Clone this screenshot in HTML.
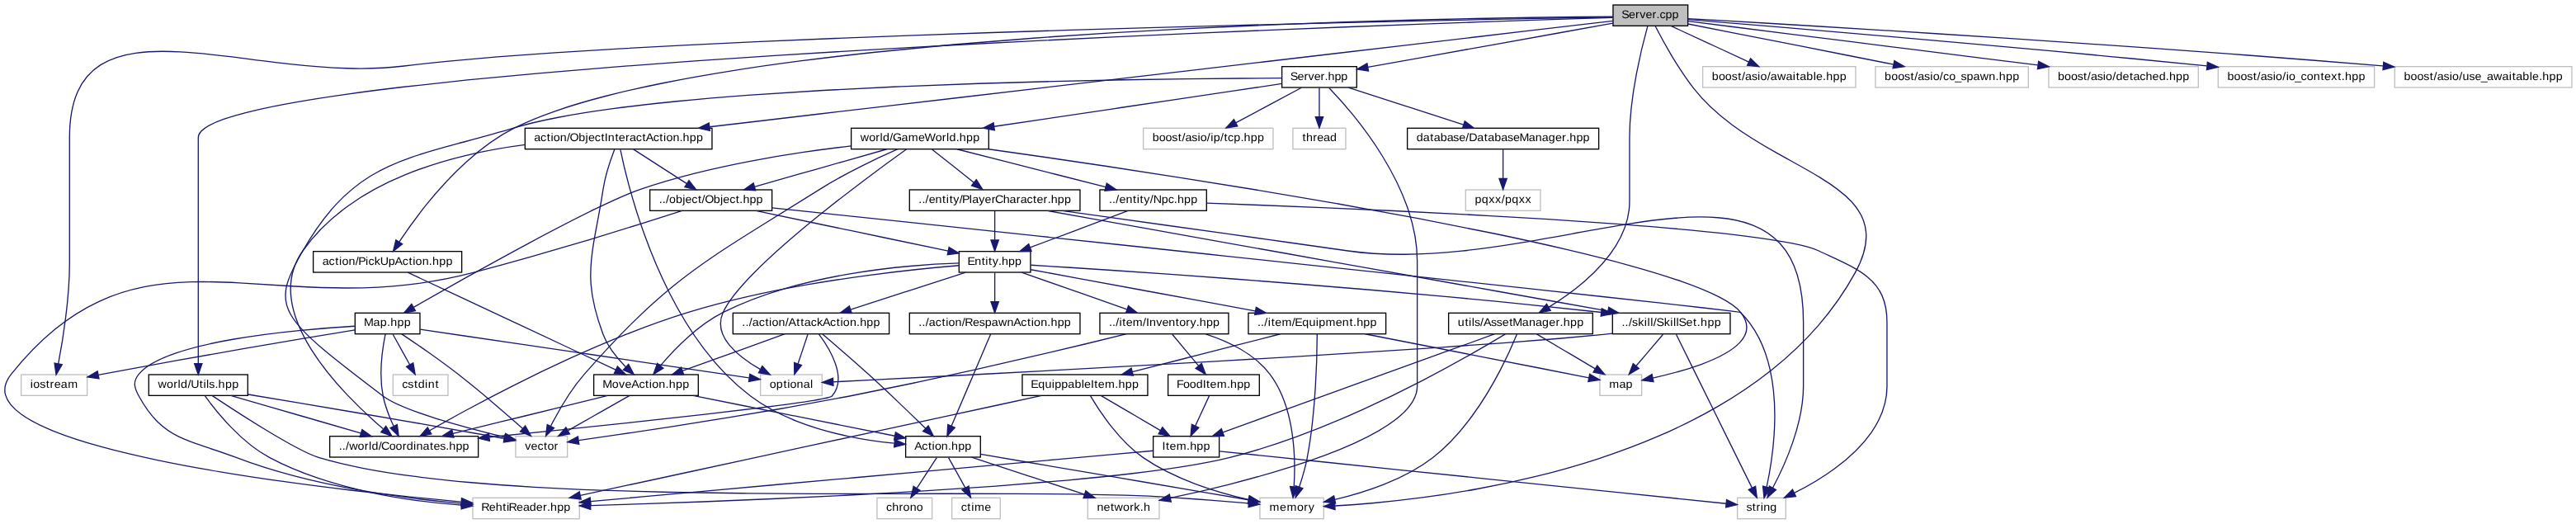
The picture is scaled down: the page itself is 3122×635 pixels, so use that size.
<!DOCTYPE html>
<html><head><meta charset="utf-8"><title>Server.cpp include graph</title>
<style>
html,body{margin:0;padding:0;background:#fff;}
body{width:3122px;height:635px;overflow:hidden;}
svg{display:block;will-change:transform;}
text{font-family:"Liberation Sans",sans-serif;font-size:10.2px;fill:#000;text-rendering:geometricPrecision;}
.e{fill:none;stroke:#191970;stroke-width:1;}
.a{fill:#191970;stroke:#191970;stroke-width:1;}
rect{stroke-width:1;}
</style></head><body>
<svg width="3122" height="635" viewBox="0 0 2341.5 476.25">
<rect x="0" y="0" width="2341.5" height="476.25" fill="#ffffff" stroke="none"/>
<rect x="1466.22" y="4.50" width="68.00" height="19.00" fill="#bfbfbf" stroke="black"/>
<text transform="translate(1474.47,16.50) scale(1.050,1)" x="-0.53 5.70 11.48 15.17 20.35 26.13 29.72 32.51 37.59 43.34">Server.cpp</text>
<rect x="19.22" y="340.50" width="60.00" height="19.00" fill="white" stroke="#bfbfbf"/>
<text transform="translate(27.47,352.50) scale(1.050,1)" x="0.17 2.64 8.24 13.66 17.14 20.82 26.58 32.61">iostream</text>
<path class="e" d="M1466.01,15.57C1457.33,15.72 1447.14,15.90 1435.58,16.11C1424.01,16.33 1411.08,16.57 1396.94,16.84C1382.79,17.12 1367.43,17.42 1351.00,17.76C1334.58,18.10 1317.09,18.46 1298.68,18.86C1280.28,19.26 1260.97,19.70 1240.89,20.16C1220.82,20.63 1199.98,21.12 1178.54,21.65C1157.09,22.18 1135.04,22.75 1112.53,23.34C1090.02,23.94 1067.06,24.57 1043.79,25.23C1020.52,25.90 996.94,26.60 973.21,27.33C949.48,28.06 925.60,28.83 901.72,29.63C877.83,30.43 853.95,31.26 830.21,32.13C806.48,33.00 782.90,33.91 759.61,34.85C736.33,35.79 713.35,36.77 690.83,37.78C668.30,38.79 646.23,39.84 624.77,40.93C603.30,42.01 582.45,43.14 562.34,44.30C542.24,45.45 522.90,46.65 504.47,47.88C486.03,49.12 468.51,50.39 452.05,51.69C435.58,53.00 420.18,54.35 405.99,55.73C391.81,57.12 378.83,58.54 367.22,60.00C350.09,62.16 332.48,62.63 314.80,62.08C297.12,61.53 279.35,59.95 261.89,58.00C244.43,56.06 227.27,53.74 210.79,51.72C194.32,49.69 178.53,47.95 163.81,47.15C149.10,46.36 135.45,46.51 123.26,48.26C111.07,50.01 100.34,53.37 91.44,58.98C82.55,64.59 75.49,72.46 70.66,83.24C65.83,94.03 63.22,107.73 63.22,125.00C63.22,125.00 63.22,125.00 63.22,139.25C63.22,153.50 63.22,182.00 63.22,239.00C63.22,255.23 61.70,272.70 59.67,288.83C57.63,304.97 55.08,319.76 53.00,330.64"/><polygon class="a" points="56.43,331.36 51.05,340.49 49.56,330.00 56.43,331.36"/>
<rect x="1165.22" y="60.50" width="68.00" height="19.00" fill="white" stroke="black"/>
<text transform="translate(1173.47,72.50) scale(1.050,1)" x="-0.57 5.57 11.28 14.90 20.00 25.71 29.24 32.07 37.72 43.38">Server.hpp</text>
<path class="e" d="M1465.99,21.14C1452.30,23.60 1435.32,26.64 1416.62,30.00C1397.91,33.36 1377.48,37.02 1356.86,40.72C1336.25,44.42 1315.45,48.15 1296.03,51.64C1276.61,55.12 1258.56,58.36 1243.44,61.07"/><polygon class="a" points="1243.89,64.54 1233.43,62.86 1242.65,57.65 1243.89,64.54"/>
<rect x="1145.22" y="452.50" width="58.00" height="19.00" fill="white" stroke="#bfbfbf"/>
<text transform="translate(1153.47,464.50) scale(1.050,1)" x="0.36 9.29 15.39 24.31 30.28 34.17">memory</text>
<path class="e" d="M1504.65,23.84C1507.97,30.30 1512.98,39.66 1518.98,49.75C1524.97,59.84 1531.95,70.65 1539.22,80.00C1549.38,93.05 1561.55,104.00 1574.58,113.59C1587.61,123.18 1601.48,131.42 1615.02,139.03C1628.56,146.64 1641.77,153.63 1653.48,160.75C1665.18,167.86 1675.37,175.10 1682.87,183.19C1690.38,191.29 1695.19,200.24 1696.14,210.80C1697.09,221.35 1694.18,233.50 1686.22,248.00C1676.66,265.42 1665.30,281.42 1652.52,296.11C1639.73,310.80 1625.50,324.18 1610.19,336.37C1594.88,348.56 1578.49,359.56 1561.35,369.48C1544.22,379.40 1526.35,388.25 1508.10,396.14C1489.84,404.03 1471.21,410.95 1452.53,417.04C1433.86,423.13 1415.15,428.37 1396.75,432.89C1378.36,437.41 1360.28,441.20 1342.87,444.39C1325.46,447.57 1308.71,450.14 1292.98,452.22C1277.25,454.31 1262.54,455.89 1249.19,457.11C1235.84,458.32 1223.86,459.15 1213.60,459.73"/><polygon class="a" points="1213.53,463.24 1203.37,460.25 1213.17,456.25 1213.53,463.24"/>
<rect x="1547.72" y="60.50" width="139.00" height="19.00" fill="white" stroke="#bfbfbf"/>
<text transform="translate(1555.97,72.50) scale(1.050,1)" x="0.12 5.91 11.60 17.16 22.54 25.93 28.92 34.48 39.61 42.05 47.88 50.88 56.68 64.18 70.03 72.86 76.11 81.91 87.86 90.31 96.07 99.08 104.97 110.88">boost/asio/awaitable.hpp</text>
<path class="e" d="M1518.76,23.56C1528.30,27.96 1540.56,33.62 1553.17,39.44C1565.78,45.25 1578.73,51.23 1589.66,56.28"/><polygon class="a" points="1591.16,53.12 1598.77,60.48 1588.22,59.47 1591.16,53.12"/>
<rect x="1704.72" y="60.50" width="139.00" height="19.00" fill="white" stroke="#bfbfbf"/>
<text transform="translate(1712.97,72.50) scale(1.050,1)" x="0.11 5.89 11.57 17.11 22.48 25.87 28.85 34.40 39.52 41.95 47.77 50.75 55.85 61.01 66.04 71.11 76.90 82.69 90.28 96.11 99.11 104.99 110.88">boost/asio/co_spawn.hpp</text>
<path class="e" d="M1534.37,21.73C1546.09,24.04 1560.17,26.82 1575.56,29.85C1590.95,32.88 1607.66,36.18 1624.62,39.52C1641.59,42.86 1658.81,46.26 1675.25,49.49C1691.68,52.73 1707.32,55.81 1721.11,58.53"/><polygon class="a" points="1721.92,55.13 1731.06,60.49 1720.57,61.99 1721.92,55.13"/>
<rect x="1316.72" y="284.50" width="131.00" height="19.00" fill="white" stroke="black"/>
<text transform="translate(1324.97,296.50) scale(1.050,1)" x="0.10 6.27 9.65 12.22 14.51 19.61 22.35 28.78 33.61 38.58 44.66 47.64 55.89 61.66 67.43 73.20 78.99 84.88 88.54 91.52 97.40 103.27">utils/AssetManager.hpp</text>
<path class="e" d="M1497.66,23.75C1495.07,33.00 1490.95,48.77 1487.49,67.00C1484.03,85.22 1481.22,105.91 1481.22,125.00C1481.22,125.00 1481.22,125.00 1481.22,183.00C1481.22,197.61 1476.34,211.15 1468.74,223.38C1461.15,235.61 1450.84,246.54 1439.99,255.90C1429.13,265.26 1417.73,273.06 1407.95,279.06"/><polygon class="a" points="1409.41,282.26 1399.02,284.32 1405.86,276.23 1409.41,282.26"/>
<rect x="135.22" y="340.50" width="90.00" height="19.00" fill="white" stroke="black"/>
<text transform="translate(143.47,352.50) scale(1.050,1)" x="0.13 7.64 13.54 17.31 19.86 25.81 28.52 36.03 39.43 42.02 44.33 49.37 52.38 58.29 64.21">world/Utils.hpp</text>
<path class="e" d="M1465.93,16.01C1456.91,16.29 1446.25,16.62 1434.09,17.01C1421.94,17.39 1408.31,17.84 1393.34,18.34C1378.38,18.84 1362.09,19.40 1344.64,20.01C1327.18,20.63 1308.56,21.30 1288.94,22.02C1269.31,22.75 1248.68,23.54 1227.20,24.38C1205.73,25.22 1183.41,26.11 1160.40,27.07C1137.39,28.02 1113.70,29.03 1089.49,30.10C1065.27,31.16 1040.53,32.29 1015.42,33.47C990.32,34.65 964.85,35.88 939.17,37.18C913.50,38.47 887.62,39.82 861.70,41.23C835.77,42.63 809.81,44.10 783.96,45.62C758.10,47.14 732.37,48.72 706.91,50.35C681.45,51.98 656.27,53.68 631.52,55.42C606.77,57.17 582.46,58.98 558.75,60.84C535.03,62.70 511.92,64.62 489.56,66.60C467.20,68.57 445.59,70.61 424.91,72.70C404.22,74.79 384.45,76.93 365.76,79.14C347.06,81.34 329.45,83.61 313.07,85.92C296.69,88.24 281.55,90.62 267.81,93.05C254.06,95.49 241.72,97.98 230.93,100.52C220.14,103.07 210.91,105.68 203.40,108.34C195.89,111.00 190.09,113.72 186.17,116.50C182.26,119.27 180.22,122.11 180.22,125.00C180.22,125.00 180.22,125.00 180.22,139.25C180.22,153.50 180.22,182.00 180.22,239.00C180.22,255.03 180.22,272.37 180.22,288.44C180.22,304.50 180.22,319.31 180.22,330.25"/><polygon class="a" points="183.72,330.44 180.22,340.44 176.72,330.44 183.72,330.44"/>
<rect x="477.22" y="116.50" width="170.00" height="19.00" fill="white" stroke="black"/>
<text transform="translate(485.47,128.50) scale(1.050,1)" x="-0.03 5.59 11.04 14.40 16.77 22.48 28.35 30.95 38.60 44.49 46.88 52.51 57.96 61.11 63.95 70.07 73.27 79.11 82.67 88.28 93.73 96.68 103.19 108.64 112.00 114.37 120.08 125.87 128.81 134.62 140.44">action/ObjectInteractAction.hpp</text>
<path class="e" d="M1466.01,19.01C1456.45,20.13 1445.07,21.47 1432.11,22.99C1419.15,24.51 1404.61,26.21 1388.72,28.08C1372.83,29.94 1355.60,31.96 1337.26,34.11C1318.92,36.26 1299.47,38.54 1279.15,40.93C1258.83,43.31 1237.64,45.79 1215.81,48.35C1193.98,50.91 1171.52,53.55 1148.66,56.23C1125.81,58.91 1102.55,61.64 1079.13,64.38C1055.71,67.13 1032.13,69.90 1008.63,72.65C985.13,75.41 961.70,78.15 938.59,80.87C915.47,83.58 892.67,86.25 870.42,88.86C848.17,91.47 826.46,94.01 805.55,96.47C784.63,98.92 764.50,101.28 745.39,103.52C726.29,105.76 708.20,107.88 691.38,109.85C674.55,111.83 658.99,113.65 644.92,115.30"/><polygon class="a" points="645.26,118.79 634.92,116.47 644.44,111.83 645.26,118.79"/>
<rect x="284.72" y="228.50" width="135.00" height="19.00" fill="white" stroke="black"/>
<text transform="translate(292.97,240.50) scale(1.050,1)" x="0.01 5.69 11.19 14.58 17.01 22.79 28.71 31.09 37.44 39.86 45.10 50.05 57.24 62.79 69.37 74.87 78.27 80.69 86.47 92.30 95.30 101.19 107.08">action/PickUpAction.hpp</text>
<path class="e" d="M1466.20,15.11C1456.93,15.17 1445.92,15.26 1433.38,15.39C1420.84,15.53 1406.76,15.71 1391.34,15.95C1375.93,16.18 1359.17,16.48 1341.28,16.85C1323.39,17.22 1304.37,17.67 1284.40,18.20C1264.44,18.73 1243.53,19.35 1221.89,20.08C1200.25,20.80 1177.87,21.63 1154.95,22.58C1132.03,23.52 1108.57,24.58 1084.77,25.78C1060.97,26.97 1036.83,28.30 1012.55,29.78C988.27,31.25 963.85,32.87 939.49,34.66C915.13,36.44 890.83,38.39 866.79,40.51C842.74,42.63 818.96,44.93 795.63,47.41C772.30,49.90 749.43,52.58 727.22,55.47C705.00,58.35 683.45,61.44 662.75,64.76C642.05,68.07 622.20,71.60 603.42,75.36C584.63,79.13 566.90,83.13 550.42,87.38C533.95,91.63 518.72,96.13 504.96,100.90C491.19,105.66 478.88,110.69 468.22,116.00C452.14,124.01 437.08,135.19 423.46,147.54C409.85,159.90 397.70,173.44 387.45,186.15C377.20,198.87 368.86,210.77 362.87,219.85"/><polygon class="a" points="365.77,221.82 357.42,228.35 359.87,218.04 365.77,221.82"/>
<rect x="1862.22" y="60.50" width="136.00" height="19.00" fill="white" stroke="#bfbfbf"/>
<text transform="translate(1870.47,72.50) scale(1.050,1)" x="0.08 5.81 11.44 16.93 22.26 25.61 28.56 34.06 39.15 41.53 47.31 50.36 56.11 62.16 65.36 70.99 76.14 81.89 87.63 93.43 96.39 102.22 108.06">boost/asio/detached.hpp</text>
<path class="e" d="M1534.32,19.28C1545.71,20.71 1559.51,22.44 1575.04,24.39C1590.57,26.34 1607.83,28.51 1626.14,30.81C1644.45,33.11 1663.80,35.54 1683.52,38.02C1703.24,40.49 1723.32,43.01 1743.09,45.50C1762.85,47.98 1782.29,50.42 1800.73,52.74C1819.17,55.05 1836.61,57.24 1852.36,59.22"/><polygon class="a" points="1852.96,55.77 1862.45,60.49 1852.09,62.72 1852.96,55.77"/>
<rect x="2016.22" y="60.50" width="142.00" height="19.00" fill="white" stroke="#bfbfbf"/>
<text transform="translate(2024.47,72.50) scale(1.050,1)" x="0.11 5.90 11.59 17.13 22.51 25.89 28.89 34.44 39.57 42.00 47.82 50.96 53.39 58.55 63.72 68.83 74.61 80.80 84.06 89.95 95.65 98.95 101.95 107.84 113.74">boost/asio/io_context.hpp</text>
<path class="e" d="M1534.37,17.75C1544.40,18.57 1556.41,19.55 1570.12,20.68C1583.82,21.81 1599.21,23.09 1616.00,24.50C1632.79,25.91 1650.98,27.45 1670.28,29.10C1689.57,30.75 1709.97,32.51 1731.18,34.36C1752.39,36.22 1774.41,38.16 1796.95,40.19C1819.50,42.21 1842.56,44.30 1865.85,46.46C1889.14,48.61 1912.66,50.82 1936.11,53.07C1959.57,55.31 1982.96,57.60 2005.99,59.90"/><polygon class="a" points="2006.53,56.43 2016.13,60.91 2005.83,63.40 2006.53,56.43"/>
<rect x="2176.72" y="60.50" width="161.00" height="19.00" fill="white" stroke="#bfbfbf"/>
<text transform="translate(2184.97,72.50) scale(1.050,1)" x="0.11 5.90 11.59 17.13 22.51 25.89 28.89 34.44 39.57 42.00 47.82 50.91 56.56 61.55 66.73 71.90 77.70 85.19 91.03 93.86 97.11 102.90 108.85 111.29 117.04 120.05 125.94 131.83">boost/asio/use_awaitable.hpp</text>
<path class="e" d="M1534.26,16.91C1543.07,17.41 1553.44,18.01 1565.20,18.69C1576.96,19.37 1590.12,20.14 1604.49,20.99C1618.87,21.85 1634.46,22.78 1651.11,23.79C1667.76,24.80 1685.47,25.89 1704.05,27.05C1722.64,28.21 1742.10,29.44 1762.29,30.74C1782.47,32.03 1803.36,33.40 1824.80,34.82C1846.24,36.24 1868.22,37.72 1890.58,39.25C1912.93,40.79 1935.66,42.38 1958.60,44.02C1981.53,45.65 2004.67,47.34 2027.84,49.07C2051.02,50.80 2074.23,52.57 2097.30,54.38C2120.37,56.19 2143.31,58.04 2165.95,59.92"/><polygon class="a" points="2166.61,56.46 2176.28,60.78 2166.02,63.44 2166.61,56.46"/>
<rect x="1039.22" y="116.50" width="118.00" height="19.00" fill="white" stroke="#bfbfbf"/>
<text transform="translate(1047.47,128.50) scale(1.050,1)" x="0.08 5.81 11.43 16.93 22.26 25.61 28.55 34.05 39.14 41.52 47.30 50.41 52.90 58.79 62.14 65.34 70.50 76.29 79.25 85.08 90.91">boost/asio/ip/tcp.hpp</text>
<path class="e" d="M1183.00,79.68C1174.93,83.99 1164.66,89.48 1154.08,95.14C1143.49,100.80 1132.59,106.62 1123.26,111.61"/><polygon class="a" points="1124.88,114.72 1114.41,116.35 1121.58,108.54 1124.88,114.72"/>
<rect x="1175.22" y="116.50" width="48.00" height="19.00" fill="white" stroke="#bfbfbf"/>
<text transform="translate(1183.47,128.50) scale(1.050,1)" x="0.37 3.61 9.50 13.02 18.61 24.28">thread</text>
<path class="e" d="M1199.22,79.92C1199.22,86.99 1199.22,97.14 1199.22,106.01"/><polygon class="a" points="1202.72,106.25 1199.22,116.25 1195.72,106.25 1202.72,106.25"/>
<rect x="468.72" y="396.50" width="47.00" height="19.00" fill="white" stroke="#bfbfbf"/>
<text transform="translate(476.97,408.50) scale(1.050,1)" x="0.16 5.40 11.02 16.47 19.64 25.47">vector</text>
<path class="e" d="M1164.89,71.03C1154.37,71.06 1141.70,71.13 1127.21,71.24C1112.73,71.34 1096.43,71.50 1078.69,71.72C1060.95,71.94 1041.76,72.22 1021.48,72.59C1001.19,72.95 979.82,73.40 957.70,73.95C935.59,74.50 912.74,75.15 889.51,75.92C866.28,76.69 842.67,77.58 819.04,78.61C795.41,79.64 771.75,80.81 748.43,82.13C725.11,83.45 702.12,84.93 679.83,86.59C657.53,88.24 635.92,90.07 615.36,92.09C594.80,94.11 575.29,96.33 557.18,98.75C539.07,101.18 522.36,103.82 507.42,106.69C492.47,109.56 479.29,112.65 468.22,116.00C449.23,121.74 432.10,126.23 416.45,130.42C400.79,134.62 386.61,138.51 373.53,143.08C360.45,147.64 348.46,152.87 337.20,159.72C325.93,166.57 315.39,175.05 305.18,186.11C294.98,197.17 285.12,210.81 275.22,228.00C267.78,240.92 262.58,251.05 260.47,260.13C258.36,269.20 259.35,277.22 264.29,285.91C269.23,294.61 278.12,303.98 291.82,315.75C305.52,327.52 324.04,341.69 348.22,360.00C356.96,366.61 375.35,373.71 396.17,380.26C416.98,386.82 440.21,392.84 458.61,397.30"/><polygon class="a" points="459.52,393.91 468.43,399.64 457.89,400.72 459.52,393.91"/>
<rect x="1279.22" y="116.50" width="174.00" height="19.00" fill="white" stroke="black"/>
<text transform="translate(1287.47,128.50) scale(1.050,1)" x="0.08 5.80 11.83 15.02 20.74 26.46 31.95 36.88 42.67 45.48 52.67 58.70 61.89 67.61 73.33 78.82 83.75 89.11 97.30 103.01 108.73 114.46 120.19 126.04 129.66 132.61 138.43 144.25">database/DatabaseManager.hpp</text>
<path class="e" d="M1225.68,79.56C1239.79,84.12 1258.06,90.03 1276.73,96.06C1295.40,102.10 1314.47,108.27 1330.19,113.35"/><polygon class="a" points="1331.45,110.08 1339.88,116.48 1329.29,116.74 1331.45,110.08"/>
<rect x="773.72" y="116.50" width="125.00" height="19.00" fill="white" stroke="black"/>
<text transform="translate(781.97,128.50) scale(1.050,1)" x="0.09 7.52 13.37 17.11 19.61 25.51 28.08 35.61 41.51 50.24 55.66 65.01 70.86 74.60 77.10 82.91 85.88 91.72 97.57">world/GameWorld.hpp</text>
<path class="e" d="M1165.07,76.08C1153.15,77.85 1138.64,80.01 1122.45,82.42C1106.25,84.83 1088.36,87.49 1069.68,90.27C1050.99,93.05 1031.49,95.95 1012.09,98.84C992.68,101.72 973.36,104.60 955.01,107.33C936.67,110.06 919.30,112.64 903.79,114.95"/><polygon class="a" points="904.05,118.45 893.64,116.46 903.02,111.52 904.05,118.45"/>
<rect x="988.72" y="452.50" width="65.00" height="19.00" fill="white" stroke="#bfbfbf"/>
<text transform="translate(996.97,464.50) scale(1.050,1)" x="0.08 5.84 11.90 15.21 22.64 28.49 32.20 37.47 40.43">network.h</text>
<path class="e" d="M1208.08,79.81C1213.71,85.66 1221.53,94.20 1230.10,104.77C1238.67,115.34 1247.98,127.94 1256.59,141.92C1265.20,155.89 1273.11,171.24 1278.86,187.31C1284.62,203.38 1288.22,220.16 1288.22,237.00C1288.22,237.00 1288.22,237.00 1288.22,251.25C1288.22,265.50 1288.22,294.00 1288.22,351.00C1288.22,360.58 1282.27,369.74 1272.16,378.41C1262.04,387.08 1247.75,395.25 1231.07,402.82C1214.38,410.40 1195.30,417.39 1175.59,423.69C1155.89,429.99 1135.56,435.61 1116.39,440.46C1097.22,445.31 1079.19,449.38 1064.10,452.59"/><polygon class="a" points="1064.47,456.09 1053.96,454.71 1063.03,449.24 1064.47,456.09"/>
<rect x="1332.22" y="172.50" width="68.00" height="19.00" fill="white" stroke="#bfbfbf"/>
<text transform="translate(1340.47,184.50) scale(1.050,1)" x="0.13 6.07 12.09 17.63 23.11 26.23 32.17 38.19 43.73">pqxx/pqxx</text>
<path class="e" d="M1366.22,135.92C1366.22,142.99 1366.22,153.14 1366.22,162.01"/><polygon class="a" points="1369.72,162.25 1366.22,172.25 1362.72,162.25 1369.72,162.25"/>
<path class="e" d="M816.06,135.52C806.62,139.68 794.73,145.13 782.29,151.38C769.84,157.63 756.85,164.67 745.22,172.00C724.76,184.90 707.13,195.73 691.36,205.53C675.60,215.33 661.71,224.10 648.74,232.88C635.77,241.65 623.72,250.44 611.64,260.26C599.57,270.09 587.46,280.95 574.37,293.90C561.29,306.84 547.22,321.86 531.22,340.00C518.60,354.31 507.76,373.27 500.74,387.02"/><polygon class="a" points="503.70,388.92 496.14,396.35 497.42,385.83 503.70,388.92"/>
<rect x="1454.22" y="340.50" width="38.00" height="19.00" fill="white" stroke="#bfbfbf"/>
<text transform="translate(1462.47,352.50) scale(1.050,1)" x="0.24 8.97 14.71">map</text>
<path class="e" d="M898.70,135.54C913.00,137.55 929.37,139.87 947.39,142.49C965.41,145.10 985.07,147.99 1005.96,151.14C1026.85,154.28 1048.96,157.68 1071.89,161.28C1094.81,164.89 1118.55,168.70 1142.67,172.70C1166.80,176.69 1191.31,180.86 1215.80,185.17C1240.28,189.49 1264.74,193.94 1288.75,198.49C1312.76,203.05 1336.33,207.71 1359.02,212.44C1381.72,217.17 1403.55,221.97 1424.10,226.79C1444.65,231.62 1463.91,236.49 1481.47,241.34C1499.03,246.20 1514.89,251.06 1528.62,255.87C1542.36,260.69 1553.97,265.46 1563.04,270.16C1572.11,274.86 1578.65,279.49 1582.22,284.00C1590.46,294.41 1588.79,303.52 1581.41,311.36C1574.02,319.21 1560.94,325.79 1546.35,331.14C1531.77,336.50 1515.70,340.62 1502.34,343.55"/><polygon class="a" points="1503.01,346.98 1492.51,345.60 1501.58,340.13 1503.01,346.98"/>
<rect x="999.72" y="172.50" width="97.00" height="19.00" fill="white" stroke="black"/>
<text transform="translate(1007.97,184.50) scale(1.050,1)" x="0.04 2.95 5.95 8.90 14.62 20.74 24.09 26.88 30.25 35.64 38.35 45.53 51.24 56.35 59.29 65.10 70.92">../entity/Npc.hpp</text>
<path class="e" d="M869.81,135.56C882.01,138.67 896.66,142.40 912.25,146.37C927.84,150.34 944.38,154.55 960.35,158.62C976.32,162.68 991.72,166.61 1005.05,170.00"/><polygon class="a" points="1005.96,166.62 1014.79,172.48 1004.23,173.41 1005.96,166.62"/>
<rect x="691.22" y="340.50" width="56.00" height="19.00" fill="white" stroke="#bfbfbf"/>
<text transform="translate(699.47,352.50) scale(1.050,1)" x="0.00 5.79 11.97 15.37 17.79 23.57 29.36 35.20">optional</text>
<path class="e" d="M824.04,135.59C814.71,142.25 800.75,152.36 784.78,164.39C768.81,176.43 750.82,190.40 733.43,204.78C716.05,219.17 699.26,233.97 685.69,247.68C672.11,261.39 661.75,274.00 657.22,284.00C652.40,294.64 655.71,304.62 662.81,313.41C669.90,322.21 680.78,329.82 691.10,335.72"/><polygon class="a" points="692.84,332.68 700.00,340.49 689.54,338.85 692.84,332.68"/>
<rect x="590.72" y="172.50" width="111.00" height="19.00" fill="white" stroke="black"/>
<text transform="translate(598.97,184.50) scale(1.050,1)" x="0.03 2.93 5.92 8.82 14.51 20.37 22.74 28.34 33.77 37.09 39.67 47.28 53.14 55.51 61.11 66.54 69.78 72.70 78.48 84.27">../object/Object.hpp</text>
<path class="e" d="M806.12,135.56C795.28,138.64 782.28,142.33 768.44,146.27C754.60,150.20 739.91,154.37 725.71,158.41C711.50,162.44 697.77,166.35 685.83,169.74"/><polygon class="a" points="686.76,173.12 676.19,172.48 684.85,166.38 686.76,173.12"/>
<rect x="322.72" y="284.50" width="59.00" height="19.00" fill="white" stroke="black"/>
<text transform="translate(330.97,296.50) scale(1.050,1)" x="-0.22 8.09 13.92 19.79 22.82 28.74 34.67">Map.hpp</text>
<path class="e" d="M773.55,132.66C760.49,134.16 745.95,136.01 730.50,138.29C715.06,140.57 698.70,143.27 682.01,146.46C665.31,149.65 648.27,153.33 631.45,157.56C614.63,161.80 598.03,166.59 582.22,172.00C571.67,175.61 556.61,182.34 539.19,190.85C521.77,199.36 501.97,209.65 481.94,220.37C461.91,231.10 441.64,242.27 423.27,252.53C404.90,262.80 388.42,272.17 375.97,279.30"/><polygon class="a" points="377.59,282.41 367.18,284.35 374.11,276.33 377.59,282.41"/>
<rect x="826.72" y="172.50" width="155.00" height="19.00" fill="white" stroke="black"/>
<text transform="translate(834.97,184.50) scale(1.050,1)" x="0.03 2.93 5.91 8.82 14.51 20.60 23.94 26.71 30.05 35.42 37.71 43.99 46.34 52.12 57.33 63.14 66.21 73.12 78.79 84.60 88.12 93.70 99.12 102.29 108.10 111.71 114.62 120.40 126.18">../entity/PlayerCharacter.hpp</text>
<path class="e" d="M847.15,135.68C857.40,143.82 872.94,156.16 885.22,165.91"/><polygon class="a" points="887.44,163.21 893.10,172.17 883.09,168.69 887.44,163.21"/>
<rect x="871.72" y="228.50" width="65.00" height="19.00" fill="white" stroke="black"/>
<text transform="translate(879.97,240.50) scale(1.050,1)" x="-0.56 5.69 11.72 15.01 17.74 21.02 26.24 29.10 34.80 40.50">Entity.hpp</text>
<path class="e" d="M1025.41,191.56C1013.40,196.06 997.89,201.87 982.01,207.83C966.13,213.78 949.87,219.88 936.35,224.95"/><polygon class="a" points="937.53,228.25 926.93,228.48 935.07,221.70 937.53,228.25"/>
<rect x="1579.22" y="452.50" width="44.00" height="19.00" fill="white" stroke="#bfbfbf"/>
<text transform="translate(1587.47,464.50) scale(1.050,1)" x="-0.17 5.13 8.51 12.22 14.67 20.46">string</text>
<path class="e" d="M1096.88,184.61C1110.36,185.09 1126.22,185.67 1143.88,186.35C1161.54,187.03 1181.01,187.81 1201.74,188.69C1222.46,189.57 1244.44,190.56 1267.11,191.64C1289.78,192.72 1313.14,193.89 1336.63,195.17C1360.12,196.44 1383.75,197.81 1406.95,199.27C1430.16,200.73 1452.93,202.29 1474.73,203.94C1496.52,205.59 1517.33,207.33 1536.59,209.16C1555.86,210.99 1573.58,212.90 1589.20,214.91C1604.82,216.92 1618.34,219.02 1629.19,221.20C1640.05,223.38 1648.24,225.65 1653.22,228.00C1671.27,236.53 1686.77,242.80 1697.76,251.93C1708.74,261.06 1715.22,273.04 1715.22,293.00C1715.22,293.00 1715.22,293.00 1715.22,351.00C1715.22,366.63 1709.60,380.74 1700.86,393.24C1692.12,405.73 1680.26,416.62 1667.77,425.79C1655.27,434.96 1642.15,442.42 1630.89,448.07"/><polygon class="a" points="1632.39,451.23 1621.87,452.42 1629.36,444.93 1632.39,451.23"/>
<rect x="299.72" y="396.50" width="135.00" height="19.00" fill="white" stroke="black"/>
<text transform="translate(307.97,408.50) scale(1.050,1)" x="0.04 2.96 5.96 8.99 16.39 22.22 25.95 28.43 34.30 36.78 43.64 49.25 55.08 58.74 64.63 67.10 72.82 78.85 82.05 87.55 92.53 95.47 101.29 107.11">../world/Coordinates.hpp</text>
<path class="e" d="M871.33,241.33C860.76,242.21 848.03,243.37 833.74,244.89C819.45,246.41 803.59,248.28 786.77,250.56C769.95,252.85 752.16,255.54 733.99,258.72C715.83,261.89 697.28,265.55 678.96,269.74C660.63,273.93 642.52,278.66 625.22,284.00C607.07,289.60 588.57,296.24 570.22,303.48C551.87,310.72 533.68,318.57 516.17,326.58C498.65,334.59 481.80,342.77 466.14,350.67C450.49,358.58 436.02,366.21 423.25,373.13C410.48,380.04 399.42,386.25 390.57,391.31"/><polygon class="a" points="392.17,394.43 381.76,396.39 388.67,388.37 392.17,394.43"/>
<rect x="999.72" y="284.50" width="117.00" height="19.00" fill="white" stroke="black"/>
<text transform="translate(1007.97,296.50) scale(1.050,1)" x="0.02 2.90 5.87 8.94 11.69 14.83 20.62 29.39 32.25 35.03 40.87 46.05 51.71 57.77 60.90 66.67 70.36 75.62 78.51 84.25 90.00">../item/Inventory.hpp</text>
<path class="e" d="M928.62,247.56C941.52,252.08 958.19,257.93 975.25,263.91C992.31,269.89 1009.77,276.01 1024.24,281.08"/><polygon class="a" points="1025.66,277.87 1033.94,284.48 1023.34,284.48 1025.66,277.87"/>
<rect x="826.72" y="284.50" width="155.00" height="19.00" fill="white" stroke="black"/>
<text transform="translate(834.97,296.50) scale(1.050,1)" x="0.05 2.98 6.01 8.97 14.62 20.10 23.48 25.88 31.63 37.53 40.03 46.92 52.45 57.50 63.26 69.02 76.56 82.08 88.63 94.11 97.49 99.89 105.64 111.45 114.42 120.28 126.14">../action/RespawnAction.hpp</text>
<path class="e" d="M904.22,247.92C904.22,254.99 904.22,265.14 904.22,274.01"/><polygon class="a" points="907.72,274.25 904.22,284.25 900.72,274.25 907.72,274.25"/>
<rect x="1465.72" y="284.50" width="107.00" height="19.00" fill="white" stroke="black"/>
<text transform="translate(1473.97,296.50) scale(1.050,1)" x="0.08 3.07 6.16 9.06 14.24 19.69 22.31 24.92 27.53 30.12 36.69 42.14 44.76 47.37 49.40 55.85 62.01 65.36 68.42 74.39 80.37">../skill/SkillSet.hpp</text>
<path class="e" d="M937.02,240.95C946.39,241.52 957.57,242.22 970.33,243.03C983.08,243.85 997.41,244.78 1013.08,245.83C1028.74,246.88 1045.74,248.05 1063.84,249.33C1081.93,250.61 1101.11,252.01 1121.15,253.51C1141.19,255.01 1162.08,256.63 1183.58,258.35C1205.08,260.07 1227.19,261.89 1249.68,263.82C1272.16,265.75 1295.02,267.78 1318.00,269.91C1340.98,272.04 1364.10,274.27 1387.10,276.60C1410.11,278.93 1433.00,281.35 1455.54,283.87"/><polygon class="a" points="1455.94,280.39 1465.48,284.99 1455.15,287.35 1455.94,280.39"/>
<rect x="1134.72" y="284.50" width="125.00" height="19.00" fill="white" stroke="black"/>
<text transform="translate(1142.97,296.50) scale(1.050,1)" x="0.05 2.98 5.99 9.11 11.91 15.13 21.04 29.90 32.38 38.78 44.62 50.52 53.02 59.02 67.75 73.51 79.65 82.92 85.88 91.73 97.57">../item/Equipment.hpp</text>
<path class="e" d="M936.98,245.04C949.32,247.31 964.44,250.10 981.14,253.18C997.84,256.25 1016.11,259.62 1034.73,263.05C1053.34,266.48 1072.31,269.98 1090.40,273.31C1108.49,276.65 1125.71,279.82 1140.84,282.61"/><polygon class="a" points="1141.79,279.22 1150.99,284.48 1140.52,286.11 1141.79,279.22"/>
<rect x="666.22" y="284.50" width="142.00" height="19.00" fill="white" stroke="black"/>
<text transform="translate(674.47,296.50) scale(1.050,1)" x="0.05 2.98 6.00 8.95 14.60 20.07 23.44 25.84 31.58 37.47 40.19 47.13 50.75 53.96 59.60 64.81 69.78 76.31 81.79 85.16 87.55 93.29 99.10 102.07 107.91 113.76">../action/AttackAction.hpp</text>
<path class="e" d="M877.76,247.56C863.65,252.12 845.38,258.03 826.71,264.06C808.04,270.10 788.96,276.27 773.25,281.35"/><polygon class="a" points="774.15,284.74 763.56,284.48 772.00,278.08 774.15,284.74"/>
<rect x="539.72" y="340.50" width="95.00" height="19.00" fill="white" stroke="black"/>
<text transform="translate(547.97,352.50) scale(1.050,1)" x="-0.24 8.01 13.89 19.21 24.67 31.25 36.76 40.15 42.58 48.36 54.20 57.20 63.09 68.98">MoveAction.hpp</text>
<path class="e" d="M871.61,239.21C859.35,239.60 844.23,240.38 827.36,241.88C810.49,243.38 791.86,245.61 772.55,248.90C753.23,252.19 733.25,256.53 713.66,262.27C694.08,268.01 674.90,275.14 657.22,284.00C645.69,289.77 634.71,298.04 625.01,306.74C615.31,315.45 606.88,324.60 600.46,332.15"/><polygon class="a" points="602.92,334.66 593.88,340.18 597.51,330.22 602.92,334.66"/>
<path class="e" d="M1024.03,303.52C1013.33,306.15 1000.50,309.28 986.08,312.74C971.67,316.20 955.67,320.00 938.63,323.98C921.60,327.95 903.53,332.09 884.97,336.25C866.42,340.40 847.38,344.57 828.40,348.58C809.43,352.59 790.52,356.45 772.22,360.00C754.54,363.43 736.20,366.79 717.74,370.04C699.28,373.30 680.71,376.44 662.57,379.41C644.44,382.38 626.74,385.19 610.03,387.78C593.33,390.37 577.61,392.74 563.43,394.84C549.24,396.94 536.60,398.77 526.05,400.28"/><polygon class="a" points="526.31,403.78 515.91,401.72 525.32,396.85 526.31,403.78"/>
<path class="e" d="M1096.03,303.57C1106.20,306.86 1117.22,311.30 1127.46,317.26C1137.70,323.22 1147.16,330.68 1154.22,340.00C1165.59,355.01 1171.49,374.10 1174.34,392.65C1177.20,411.20 1177.01,429.22 1176.19,442.09"/><polygon class="a" points="1179.65,442.66 1175.33,452.34 1172.68,442.08 1179.65,442.66"/>
<rect x="1061.72" y="340.50" width="83.00" height="19.00" fill="white" stroke="black"/>
<text transform="translate(1069.97,352.50) scale(1.050,1)" x="-0.49 5.21 10.81 16.50 22.17 25.31 28.49 34.34 43.07 46.00 51.80 57.60">FoodItem.hpp</text>
<path class="e" d="M1065.65,303.92C1072.08,311.62 1081.53,322.97 1089.35,332.35"/><polygon class="a" points="1092.22,330.33 1095.93,340.25 1086.84,334.81 1092.22,330.33"/>
<rect x="1048.22" y="396.50" width="60.00" height="19.00" fill="white" stroke="black"/>
<text transform="translate(1056.47,408.50) scale(1.050,1)" x="-0.06 3.11 6.33 12.23 21.02 23.98 29.82 35.67">Item.hpp</text>
<path class="e" d="M1099.09,359.92C1095.71,367.23 1090.81,377.82 1086.60,386.90"/><polygon class="a" points="1089.65,388.64 1082.27,396.25 1083.30,385.70 1089.65,388.64"/>
<path class="e" d="M1108.60,410.14C1120.08,411.32 1134.41,412.80 1150.88,414.50C1167.35,416.21 1185.96,418.13 1206.01,420.20C1226.06,422.27 1247.54,424.48 1269.75,426.78C1291.96,429.07 1314.89,431.44 1337.85,433.81C1360.80,436.18 1383.78,438.55 1406.06,440.85C1428.35,443.15 1449.95,445.38 1470.15,447.47C1490.35,449.55 1509.16,451.50 1525.86,453.22C1542.56,454.94 1557.16,456.45 1568.95,457.67"/><polygon class="a" points="1569.44,454.20 1579.03,458.71 1568.72,461.16 1569.44,454.20"/>
<rect x="429.72" y="452.50" width="97.00" height="19.00" fill="white" stroke="#bfbfbf"/>
<text transform="translate(437.97,464.50) scale(1.050,1)" x="-0.52 6.29 11.98 18.07 21.40 23.28 30.09 35.69 41.37 47.06 52.87 56.47 59.38 65.16 70.94">RehtiReader.hpp</text>
<path class="e" d="M1048.06,409.71C1037.57,410.65 1024.65,411.82 1009.80,413.15C994.95,414.49 978.17,416.00 959.96,417.64C941.74,419.28 922.09,421.05 901.51,422.90C880.92,424.76 859.40,426.69 837.43,428.67C815.46,430.65 793.06,432.66 770.71,434.68C748.36,436.69 726.06,438.69 704.32,440.65C682.58,442.61 661.39,444.51 641.25,446.33C621.11,448.14 602.01,449.86 584.47,451.44C566.92,453.01 550.92,454.45 536.96,455.71"/><polygon class="a" points="537.04,459.22 526.76,456.63 536.41,452.25 537.04,459.22"/>
<rect x="823.22" y="396.50" width="68.00" height="19.00" fill="white" stroke="black"/>
<text transform="translate(831.47,408.50) scale(1.050,1)" x="-0.28 6.21 11.64 14.98 17.34 23.03 28.80 31.72 37.52 43.31">Action.hpp</text>
<path class="e" d="M900.53,303.63C896.70,312.58 890.36,327.45 883.68,343.07C877.01,358.69 870.01,375.06 864.89,387.05"/><polygon class="a" points="868.04,388.59 860.89,396.41 861.60,385.84 868.04,388.59"/>
<path class="e" d="M891.45,412.83C903.31,414.85 917.65,417.29 933.52,420.00C949.39,422.70 966.77,425.66 984.71,428.72C1002.65,431.77 1021.14,434.92 1039.21,438.00C1057.28,441.08 1074.94,444.09 1091.21,446.86C1107.48,449.63 1122.37,452.17 1134.90,454.30"/><polygon class="a" points="1135.53,450.86 1144.80,455.99 1134.35,457.76 1135.53,450.86"/>
<rect x="797.22" y="452.50" width="50.00" height="19.00" fill="white" stroke="#bfbfbf"/>
<text transform="translate(805.47,464.50) scale(1.050,1)" x="-0.01 5.17 11.14 14.73 20.49 26.24">chrono</text>
<path class="e" d="M851.44,415.92C846.55,423.47 839.40,434.51 833.39,443.77"/><polygon class="a" points="836.27,445.76 827.89,452.25 830.40,441.95 836.27,445.76"/>
<path class="e" d="M883.21,415.56C897.07,420.12 915.00,426.03 933.34,432.06C951.67,438.10 970.40,444.27 985.84,449.35"/><polygon class="a" points="986.95,446.03 995.36,452.48 984.76,452.68 986.95,446.03"/>
<rect x="865.22" y="452.50" width="44.00" height="19.00" fill="white" stroke="#bfbfbf"/>
<text transform="translate(873.47,464.50) scale(1.050,1)" x="0.01 5.54 8.94 11.66 20.49">ctime</text>
<path class="e" d="M862.18,415.92C866.33,423.39 872.38,434.28 877.49,443.48"/><polygon class="a" points="880.56,441.81 882.36,452.25 874.44,445.21 880.56,441.81"/>
<path class="e" d="M1511.63,303.92C1505.00,311.70 1495.20,323.20 1487.16,332.63"/><polygon class="a" points="1489.83,334.91 1480.68,340.25 1484.50,330.37 1489.83,334.91"/>
<path class="e" d="M1523.63,303.92C1527.97,312.71 1535.14,327.21 1543.41,343.95C1551.67,360.70 1561.05,379.67 1569.80,397.40C1578.56,415.12 1586.70,431.60 1592.50,443.34"/><polygon class="a" points="1595.70,441.92 1596.99,452.43 1589.42,445.02 1595.70,441.92"/>
<path class="e" d="M1465.49,303.08C1462.70,303.41 1459.93,303.72 1457.22,304.00C1445.73,305.18 1432.21,306.42 1417.00,307.70C1401.80,308.98 1384.90,310.30 1366.65,311.66C1348.41,313.01 1328.82,314.39 1308.23,315.78C1287.63,317.18 1266.03,318.59 1243.77,320.00C1221.51,321.41 1198.59,322.82 1175.35,324.23C1152.11,325.63 1128.54,327.01 1105.00,328.38C1081.46,329.74 1057.95,331.07 1034.80,332.37C1011.64,333.66 988.86,334.92 966.78,336.12C944.70,337.32 923.32,338.47 903.00,339.55C882.68,340.63 863.40,341.64 845.52,342.58C827.64,343.51 811.15,344.36 796.39,345.11C781.64,345.87 768.62,346.53 757.67,347.08"/><polygon class="a" points="757.48,350.59 747.32,347.60 757.13,343.60 757.48,350.59"/>
<path class="e" d="M1240.96,303.56C1255.19,306.34 1271.98,309.63 1289.93,313.14C1307.87,316.65 1326.96,320.38 1345.79,324.07C1364.62,327.75 1383.18,331.38 1400.07,334.69C1416.96,337.99 1432.17,340.97 1444.29,343.34"/><polygon class="a" points="1444.99,339.91 1454.13,345.26 1443.64,346.78 1444.99,339.91"/>
<path class="e" d="M1197.25,303.60C1197.21,313.56 1196.93,331.26 1195.67,351.67C1194.41,372.08 1192.18,395.20 1188.22,416.00C1186.52,424.94 1183.66,434.61 1180.96,442.69"/><polygon class="a" points="1184.24,443.91 1177.62,452.19 1177.63,441.59 1184.24,443.91"/>
<rect x="929.22" y="340.50" width="114.00" height="19.00" fill="white" stroke="black"/>
<text transform="translate(937.47,352.50) scale(1.050,1)" x="-0.49 5.90 11.74 17.64 20.14 25.98 31.73 37.47 43.37 45.78 51.39 54.55 57.77 63.67 72.45 75.42 81.25 87.10">EquippableItem.hpp</text>
<path class="e" d="M1163.79,303.56C1151.65,306.67 1137.07,310.40 1121.55,314.37C1106.03,318.34 1089.58,322.55 1073.68,326.62C1057.79,330.68 1042.46,334.61 1029.19,338.00"/><polygon class="a" points="1030.06,341.39 1019.50,340.48 1028.32,334.61 1030.06,341.39"/>
<path class="e" d="M991.21,359.92C995.33,366.89 1001.82,377.11 1010.04,387.48C1018.25,397.86 1028.20,408.39 1039.22,416.00C1053.66,425.97 1070.48,433.87 1087.25,440.09C1104.01,446.30 1120.73,450.83 1134.96,454.04"/><polygon class="a" points="1135.91,450.67 1144.96,456.18 1134.45,457.51 1135.91,450.67"/>
<path class="e" d="M1001.00,359.68C1008.25,363.93 1017.44,369.33 1026.95,374.90C1036.45,380.48 1046.26,386.24 1054.72,391.20"/><polygon class="a" points="1056.63,388.26 1063.48,396.35 1053.08,394.30 1056.63,388.26"/>
<path class="e" d="M946.78,359.54C935.33,362.02 921.76,364.96 906.59,368.24C891.42,371.53 874.64,375.16 856.77,379.03C838.90,382.90 819.94,387.01 800.39,391.24C780.85,395.47 760.72,399.83 740.53,404.20C720.33,408.58 700.06,412.96 680.24,417.26C660.41,421.55 641.03,425.75 622.60,429.74C604.17,433.73 586.69,437.51 570.68,440.98C554.66,444.45 540.11,447.60 527.54,450.32"/><polygon class="a" points="528.15,453.77 517.64,452.47 526.67,446.93 528.15,453.77"/>
<path class="e" d="M744.30,303.70C749.40,310.52 755.98,320.56 759.48,330.91C762.99,341.26 763.41,351.93 756.22,360.00C755.36,360.96 749.26,362.33 739.16,363.98C729.06,365.64 714.97,367.60 698.14,369.73C681.31,371.87 661.74,374.19 640.68,376.59C619.63,378.99 597.09,381.47 574.32,383.91C551.55,386.35 528.55,388.76 506.58,391.03C484.60,393.30 463.65,395.43 444.98,397.31"/><polygon class="a" points="445.03,400.82 434.73,398.34 444.33,393.86 445.03,400.82"/>
<path class="e" d="M747.71,303.82C758.31,312.78 775.09,327.15 789.22,340.00C798.31,348.27 807.93,357.29 816.98,365.91C826.04,374.53 834.53,382.75 841.35,389.40"/><polygon class="a" points="843.85,386.95 848.55,396.45 838.96,391.95 843.85,386.95"/>
<path class="e" d="M734.25,303.92C731.84,311.15 728.36,321.59 725.35,330.60"/><polygon class="a" points="728.62,331.87 722.14,340.25 721.98,329.66 728.62,331.87"/>
<path class="e" d="M713.45,303.56C700.89,308.08 684.66,313.93 668.04,319.91C651.42,325.89 634.41,332.01 620.32,337.08"/><polygon class="a" points="621.47,340.39 610.88,340.48 619.10,333.80 621.47,340.39"/>
<path class="e" d="M571.96,359.68C564.48,363.93 554.98,369.33 545.17,374.90C535.36,380.48 525.24,386.24 516.50,391.20"/><polygon class="a" points="517.87,394.45 507.45,396.35 514.41,388.36 517.87,394.45"/>
<path class="e" d="M552.36,359.56C539.68,362.67 524.44,366.41 508.22,370.39C492.00,374.37 474.80,378.59 458.20,382.67C441.60,386.74 425.59,390.67 411.76,394.07"/><polygon class="a" points="412.47,397.50 401.92,396.48 410.80,390.70 412.47,397.50"/>
<path class="e" d="M630.00,359.56C642.52,362.06 657.07,364.97 672.64,368.08C688.21,371.20 704.80,374.52 721.41,377.84C738.02,381.16 754.64,384.49 770.28,387.61C785.91,390.74 800.56,393.67 813.21,396.20"/><polygon class="a" points="814.07,392.80 823.19,398.19 812.70,399.66 814.07,392.80"/>
<path class="e" d="M687.10,191.56C703.02,194.89 722.37,198.94 742.88,203.23C763.40,207.53 785.08,212.06 805.66,216.37C826.25,220.68 845.73,224.76 861.86,228.13"/><polygon class="a" points="862.63,224.72 871.70,230.19 861.20,231.57 862.63,224.72"/>
<path class="e" d="M701.84,188.89C715.24,190.31 730.76,191.95 748.06,193.78C765.36,195.62 784.43,197.64 804.93,199.81C825.44,201.99 847.38,204.32 870.41,206.76C893.45,209.21 917.57,211.77 942.45,214.42C967.33,217.07 992.96,219.79 1019.00,222.57C1045.05,225.34 1071.50,228.16 1098.02,230.99C1124.54,233.83 1151.13,236.67 1177.45,239.48C1203.77,242.30 1229.82,245.09 1255.25,247.82C1280.69,250.55 1305.51,253.23 1329.38,255.80C1353.24,258.37 1376.16,260.85 1397.78,263.20C1419.39,265.54 1439.72,267.75 1458.40,269.80C1477.09,271.84 1494.13,273.72 1509.20,275.39C1524.28,277.07 1537.37,278.54 1548.14,279.77C1558.91,281.00 1567.37,281.99 1573.16,282.71C1578.96,283.43 1582.09,283.87 1582.22,284.00C1596.35,298.14 1604.55,316.43 1608.92,335.87C1613.29,355.31 1613.83,375.90 1612.62,394.65C1611.42,413.40 1608.47,430.30 1605.88,442.35"/><polygon class="a" points="1609.20,443.50 1603.53,452.45 1602.38,441.92 1609.20,443.50"/>
<path class="e" d="M620.01,191.54C609.86,194.81 597.20,198.85 582.84,203.35C568.48,207.85 552.41,212.81 535.44,217.93C518.47,223.04 500.60,228.31 482.63,233.42C464.66,238.54 446.59,243.50 429.22,248.00C408.71,253.31 389.07,256.75 370.18,258.86C351.29,260.97 333.15,261.76 315.68,261.78C298.20,261.80 281.38,261.05 265.12,260.09C248.85,259.13 233.14,257.96 217.88,257.14C202.62,256.31 187.82,255.83 173.36,256.24C158.90,256.66 144.80,257.97 130.94,260.75C117.09,263.52 103.48,267.74 90.02,273.98C76.56,280.22 63.25,288.47 49.98,299.29C36.72,310.11 23.50,323.49 10.22,340.00C4.89,346.63 3.34,352.97 5.00,359.02C6.66,365.07 11.54,370.83 19.06,376.31C26.59,381.80 36.76,387.00 49.02,391.92C61.27,396.84 75.62,401.49 91.48,405.86C107.34,410.23 124.71,414.33 143.05,418.16C161.38,422.00 180.66,425.56 200.34,428.86C220.01,432.16 240.08,435.19 259.96,437.97C279.85,440.75 299.56,443.26 318.53,445.52C337.50,447.78 355.72,449.79 372.64,451.55C389.56,453.30 405.18,454.81 418.92,456.07"/><polygon class="a" points="419.62,452.62 429.26,457.01 418.99,459.59 419.62,452.62"/>
<path class="e" d="M322.65,299.84C310.61,301.83 295.44,304.35 278.15,307.27C260.87,310.18 241.47,313.48 220.99,317.02C200.50,320.56 178.93,324.35 157.30,328.23C135.66,332.10 113.96,336.08 93.22,340.00C91.97,340.24 90.70,340.48 89.42,340.73"/><polygon class="a" points="89.98,344.18 79.50,342.68 88.63,337.32 89.98,344.18"/>
<path class="e" d="M365.23,303.62C371.79,308.02 380.25,313.79 389.21,320.12C398.17,326.44 407.64,333.33 416.22,340.00C426.63,348.09 437.56,357.09 447.77,365.76C457.99,374.44 467.49,382.77 475.07,389.51"/><polygon class="a" points="477.51,387.01 482.63,396.28 472.85,392.22 477.51,387.01"/>
<path class="e" d="M350.31,303.51C347.80,316.02 344.18,340.05 348.22,360.00C350.12,369.35 354.01,379.17 357.79,387.25"/><polygon class="a" points="361.01,385.86 362.35,396.37 354.75,388.99 361.01,385.86"/>
<path class="e" d="M322.35,296.41C308.45,297.24 290.77,298.51 271.68,300.42C252.60,302.33 232.12,304.88 212.61,308.26C193.10,311.63 174.57,315.84 159.38,321.06C144.19,326.29 132.34,332.54 126.22,340.00C120.58,346.87 121.93,352.22 126.22,360.00C137.52,380.45 148.86,390.28 162.83,397.08C176.80,403.87 193.40,407.64 215.22,416.00C232.04,422.44 249.81,427.96 267.86,432.69C285.92,437.42 304.25,441.37 322.18,444.66C340.11,447.94 357.63,450.58 374.09,452.68C390.54,454.78 405.91,456.36 419.53,457.54"/><polygon class="a" points="420.02,454.07 429.70,458.38 419.45,461.05 420.02,454.07"/>
<path class="e" d="M381.94,299.37C392.96,300.99 406.57,302.99 421.93,305.25C437.29,307.51 454.41,310.03 472.46,312.69C490.52,315.35 509.50,318.14 528.58,320.95C547.67,323.76 566.86,326.58 585.32,329.30C603.78,332.01 621.52,334.62 637.71,337.01C653.90,339.39 668.53,341.55 680.79,343.35"/><polygon class="a" points="681.61,339.93 691.00,344.85 680.60,346.85 681.61,339.93"/>
<rect x="357.22" y="340.50" width="50.00" height="19.00" fill="white" stroke="#bfbfbf"/>
<text transform="translate(365.47,352.50) scale(1.050,1)" x="0.03 5.05 10.47 13.86 19.85 22.42 28.65">cstdint</text>
<path class="e" d="M357.18,303.92C361.33,311.39 367.38,322.28 372.49,331.48"/><polygon class="a" points="375.56,329.81 377.36,340.25 369.44,333.21 375.56,329.81"/>
<path class="e" d="M904.22,191.92C904.22,198.99 904.22,209.14 904.22,218.01"/><polygon class="a" points="907.72,218.25 904.22,228.25 900.72,218.25 907.72,218.25"/>
<path class="e" d="M965.47,191.52C978.39,193.32 992.92,195.35 1008.61,197.54C1024.31,199.73 1041.17,202.09 1058.77,204.56C1076.37,207.02 1094.71,209.59 1113.34,212.21C1131.97,214.83 1150.90,217.49 1169.69,220.14C1188.49,222.80 1207.14,225.43 1225.22,228.00C1241.98,230.38 1259.12,231.32 1276.43,231.21C1293.73,231.11 1311.20,229.94 1328.64,228.11C1346.07,226.27 1363.46,223.77 1380.61,220.97C1397.76,218.17 1414.66,215.08 1431.11,212.08C1447.55,209.08 1463.55,206.17 1478.89,203.73C1494.22,201.29 1508.90,199.32 1522.72,198.20C1536.53,197.09 1549.48,196.82 1561.36,197.79C1573.23,198.76 1584.04,200.96 1593.56,204.78C1603.09,208.60 1611.34,214.03 1618.10,221.45C1624.87,228.88 1630.15,238.30 1633.73,250.10C1637.32,261.89 1639.22,276.07 1639.22,293.00C1639.22,293.00 1639.22,293.00 1639.22,351.00C1639.22,368.10 1635.07,385.91 1629.51,402.09C1623.96,418.28 1616.99,432.84 1611.37,443.43"/><polygon class="a" points="1614.40,445.17 1606.51,452.23 1608.28,441.78 1614.40,445.17"/>
<path class="e" d="M951.97,191.54C964.36,193.76 978.79,196.34 994.82,199.20C1010.85,202.07 1028.49,205.23 1047.29,208.59C1066.08,211.95 1086.04,215.52 1106.72,219.22C1127.40,222.92 1148.80,226.75 1170.48,230.63C1192.16,234.50 1214.11,238.43 1235.91,242.33C1257.70,246.23 1279.33,250.09 1300.36,253.86C1321.38,257.62 1341.81,261.27 1361.18,264.73C1380.56,268.20 1398.89,271.48 1415.73,274.49C1432.57,277.50 1447.92,280.25 1461.35,282.65"/><polygon class="a" points="1462.28,279.26 1471.51,284.47 1461.05,286.15 1462.28,279.26"/>
<path class="e" d="M1396.84,303.68C1404.01,307.93 1413.11,313.33 1422.51,318.90C1431.90,324.48 1441.61,330.24 1449.97,335.20"/><polygon class="a" points="1451.82,332.23 1458.64,340.35 1448.25,338.25 1451.82,332.23"/>
<path class="e" d="M1378.83,303.74C1375.83,311.11 1370.86,322.54 1364.05,335.68C1357.25,348.81 1348.61,363.64 1338.26,377.81C1327.91,391.98 1315.85,405.50 1302.22,416.00C1289.19,426.03 1273.75,433.94 1258.17,440.14C1242.60,446.34 1226.89,450.82 1213.35,454.00"/><polygon class="a" points="1213.96,457.46 1203.44,456.20 1212.44,450.62 1213.96,457.46"/>
<path class="e" d="M1358.62,303.54C1347.89,307.42 1334.06,312.43 1318.29,318.13C1302.53,323.84 1284.83,330.24 1266.39,336.91C1247.94,343.59 1228.74,350.54 1209.95,357.33C1191.17,364.13 1172.81,370.77 1156.04,376.84C1139.27,382.91 1124.10,388.39 1111.70,392.88"/><polygon class="a" points="1112.61,396.28 1102.02,396.39 1110.23,389.70 1112.61,396.28"/>
<path class="e" d="M1368.26,303.67C1360.59,308.32 1350.02,314.60 1337.21,321.87C1324.39,329.13 1309.33,337.39 1292.67,346.00C1276.01,354.61 1257.75,363.57 1238.55,372.26C1219.35,380.95 1199.20,389.36 1178.77,396.86C1158.33,404.36 1137.59,410.95 1117.22,416.00C1106.32,418.70 1093.16,421.25 1078.17,423.67C1063.17,426.08 1046.35,428.36 1028.11,430.50C1009.87,432.64 990.23,434.65 969.60,436.53C948.97,438.41 927.35,440.16 905.17,441.79C882.99,443.43 860.26,444.94 837.38,446.33C814.51,447.73 791.49,449.01 768.77,450.18C746.04,451.36 723.61,452.42 701.88,453.38C680.15,454.34 659.14,455.20 639.26,455.97C619.38,456.73 600.63,457.40 583.45,457.97C566.27,458.55 550.64,459.04 537.00,459.44"/><polygon class="a" points="536.84,462.95 526.74,459.74 536.64,455.95 536.84,462.95"/>
<path class="e" d="M225.58,358.50C238.74,360.69 254.19,363.27 271.16,366.12C288.14,368.98 306.63,372.10 325.88,375.39C345.13,378.67 365.14,382.11 385.12,385.58C405.10,389.06 425.06,392.57 444.22,396.00C448.76,396.81 453.53,397.68 458.24,398.56"/><polygon class="a" points="459.12,395.16 468.31,400.44 457.84,402.04 459.12,395.16"/>
<path class="e" d="M209.85,359.56C220.47,362.63 233.20,366.30 246.76,370.22C260.32,374.13 274.71,378.28 288.64,382.31C302.57,386.33 316.05,390.22 327.79,393.61"/><polygon class="a" points="329.09,390.35 337.73,396.48 327.15,397.07 329.09,390.35"/>
<path class="e" d="M192.83,359.51C204.95,367.60 224.14,380.18 242.89,391.51C261.63,402.84 279.92,412.92 290.22,416.00C301.99,419.51 315.15,422.65 329.50,425.46C343.84,428.26 359.38,430.73 375.92,432.91C392.45,435.08 409.98,436.96 428.31,438.59C446.64,440.21 465.77,441.58 485.51,442.73C505.24,443.89 525.58,444.82 546.33,445.58C567.08,446.34 588.24,446.93 609.61,447.37C630.98,447.82 652.56,448.13 674.16,448.34C695.76,448.55 717.38,448.67 738.82,448.72C760.26,448.78 781.52,448.78 802.40,448.76C823.29,448.74 843.80,448.70 863.75,448.68C883.69,448.66 903.07,448.66 921.68,448.73C940.29,448.79 958.13,448.92 975.01,449.14C991.90,449.36 1007.82,449.69 1022.59,450.15C1037.35,450.61 1050.96,451.22 1063.22,452.00C1075.11,452.76 1087.70,453.68 1099.97,454.63C1112.24,455.58 1124.19,456.57 1134.79,457.47"/><polygon class="a" points="1135.37,454.01 1145.03,458.36 1134.76,460.98 1135.37,454.01"/>
<path class="e" d="M186.26,359.80C191.41,366.94 199.60,377.50 209.78,388.03C219.95,398.56 232.12,409.04 245.22,416.00C258.85,423.24 273.48,429.32 288.53,434.43C303.58,439.54 319.04,443.68 334.33,447.03C349.62,450.39 364.75,452.95 379.12,454.91C393.49,456.86 407.10,458.21 419.38,459.14"/><polygon class="a" points="419.78,455.66 429.52,459.83 419.31,462.64 419.78,455.66"/>
<path class="e" d="M477.22,131.57C460.46,133.72 442.29,136.81 423.76,141.25C405.22,145.68 386.33,151.46 368.11,158.97C349.88,166.47 332.34,175.72 316.51,187.09C300.68,198.47 286.57,211.97 275.22,228.00C265.40,241.87 262.72,256.92 264.81,272.20C266.90,287.47 273.76,302.97 283.00,317.73C292.25,332.48 303.88,346.50 315.53,358.81C327.17,371.12 338.83,381.72 348.12,389.65"/><polygon class="a" points="350.80,387.33 356.24,396.42 346.32,392.71 350.80,387.33"/>
<path class="e" d="M563.92,135.97C565.35,142.99 567.73,153.76 571.27,166.98C574.81,180.20 579.51,195.88 585.57,212.70C591.63,229.53 599.05,247.50 608.02,265.32C617.00,283.15 627.54,300.82 639.84,317.03C652.14,333.24 666.20,348.00 682.22,360.00C694.92,369.51 709.43,377.02 724.55,382.95C739.66,388.87 755.38,393.22 770.48,396.40C785.58,399.59 800.07,401.61 812.74,402.89"/><polygon class="a" points="813.35,399.43 823.00,403.80 812.73,406.40 813.35,399.43"/>
<path class="e" d="M558.62,135.78C555.17,144.72 550.19,159.06 548.22,172.00C545.28,191.33 542.03,206.34 539.75,219.78C537.47,233.23 536.17,245.12 537.15,258.24C538.13,271.35 541.39,285.68 548.22,304.00C552.40,315.19 560.74,325.44 568.65,333.32"/><polygon class="a" points="571.28,331.00 576.23,340.37 566.52,336.13 571.28,331.00"/>
<path class="e" d="M575.72,135.68C588.82,144.10 608.93,157.03 624.33,166.93"/><polygon class="a" points="626.24,163.99 632.76,172.35 622.46,169.88 626.24,163.99"/>
<path class="e" d="M370.66,247.63C380.94,252.44 394.85,258.95 410.70,266.37C426.54,273.79 444.33,282.11 462.34,290.55C480.36,298.98 498.61,307.52 515.38,315.37C532.16,323.23 547.47,330.39 559.60,336.07"/><polygon class="a" points="561.30,333.00 568.87,340.41 558.33,339.34 561.30,333.00"/>
</svg>
</body></html>
